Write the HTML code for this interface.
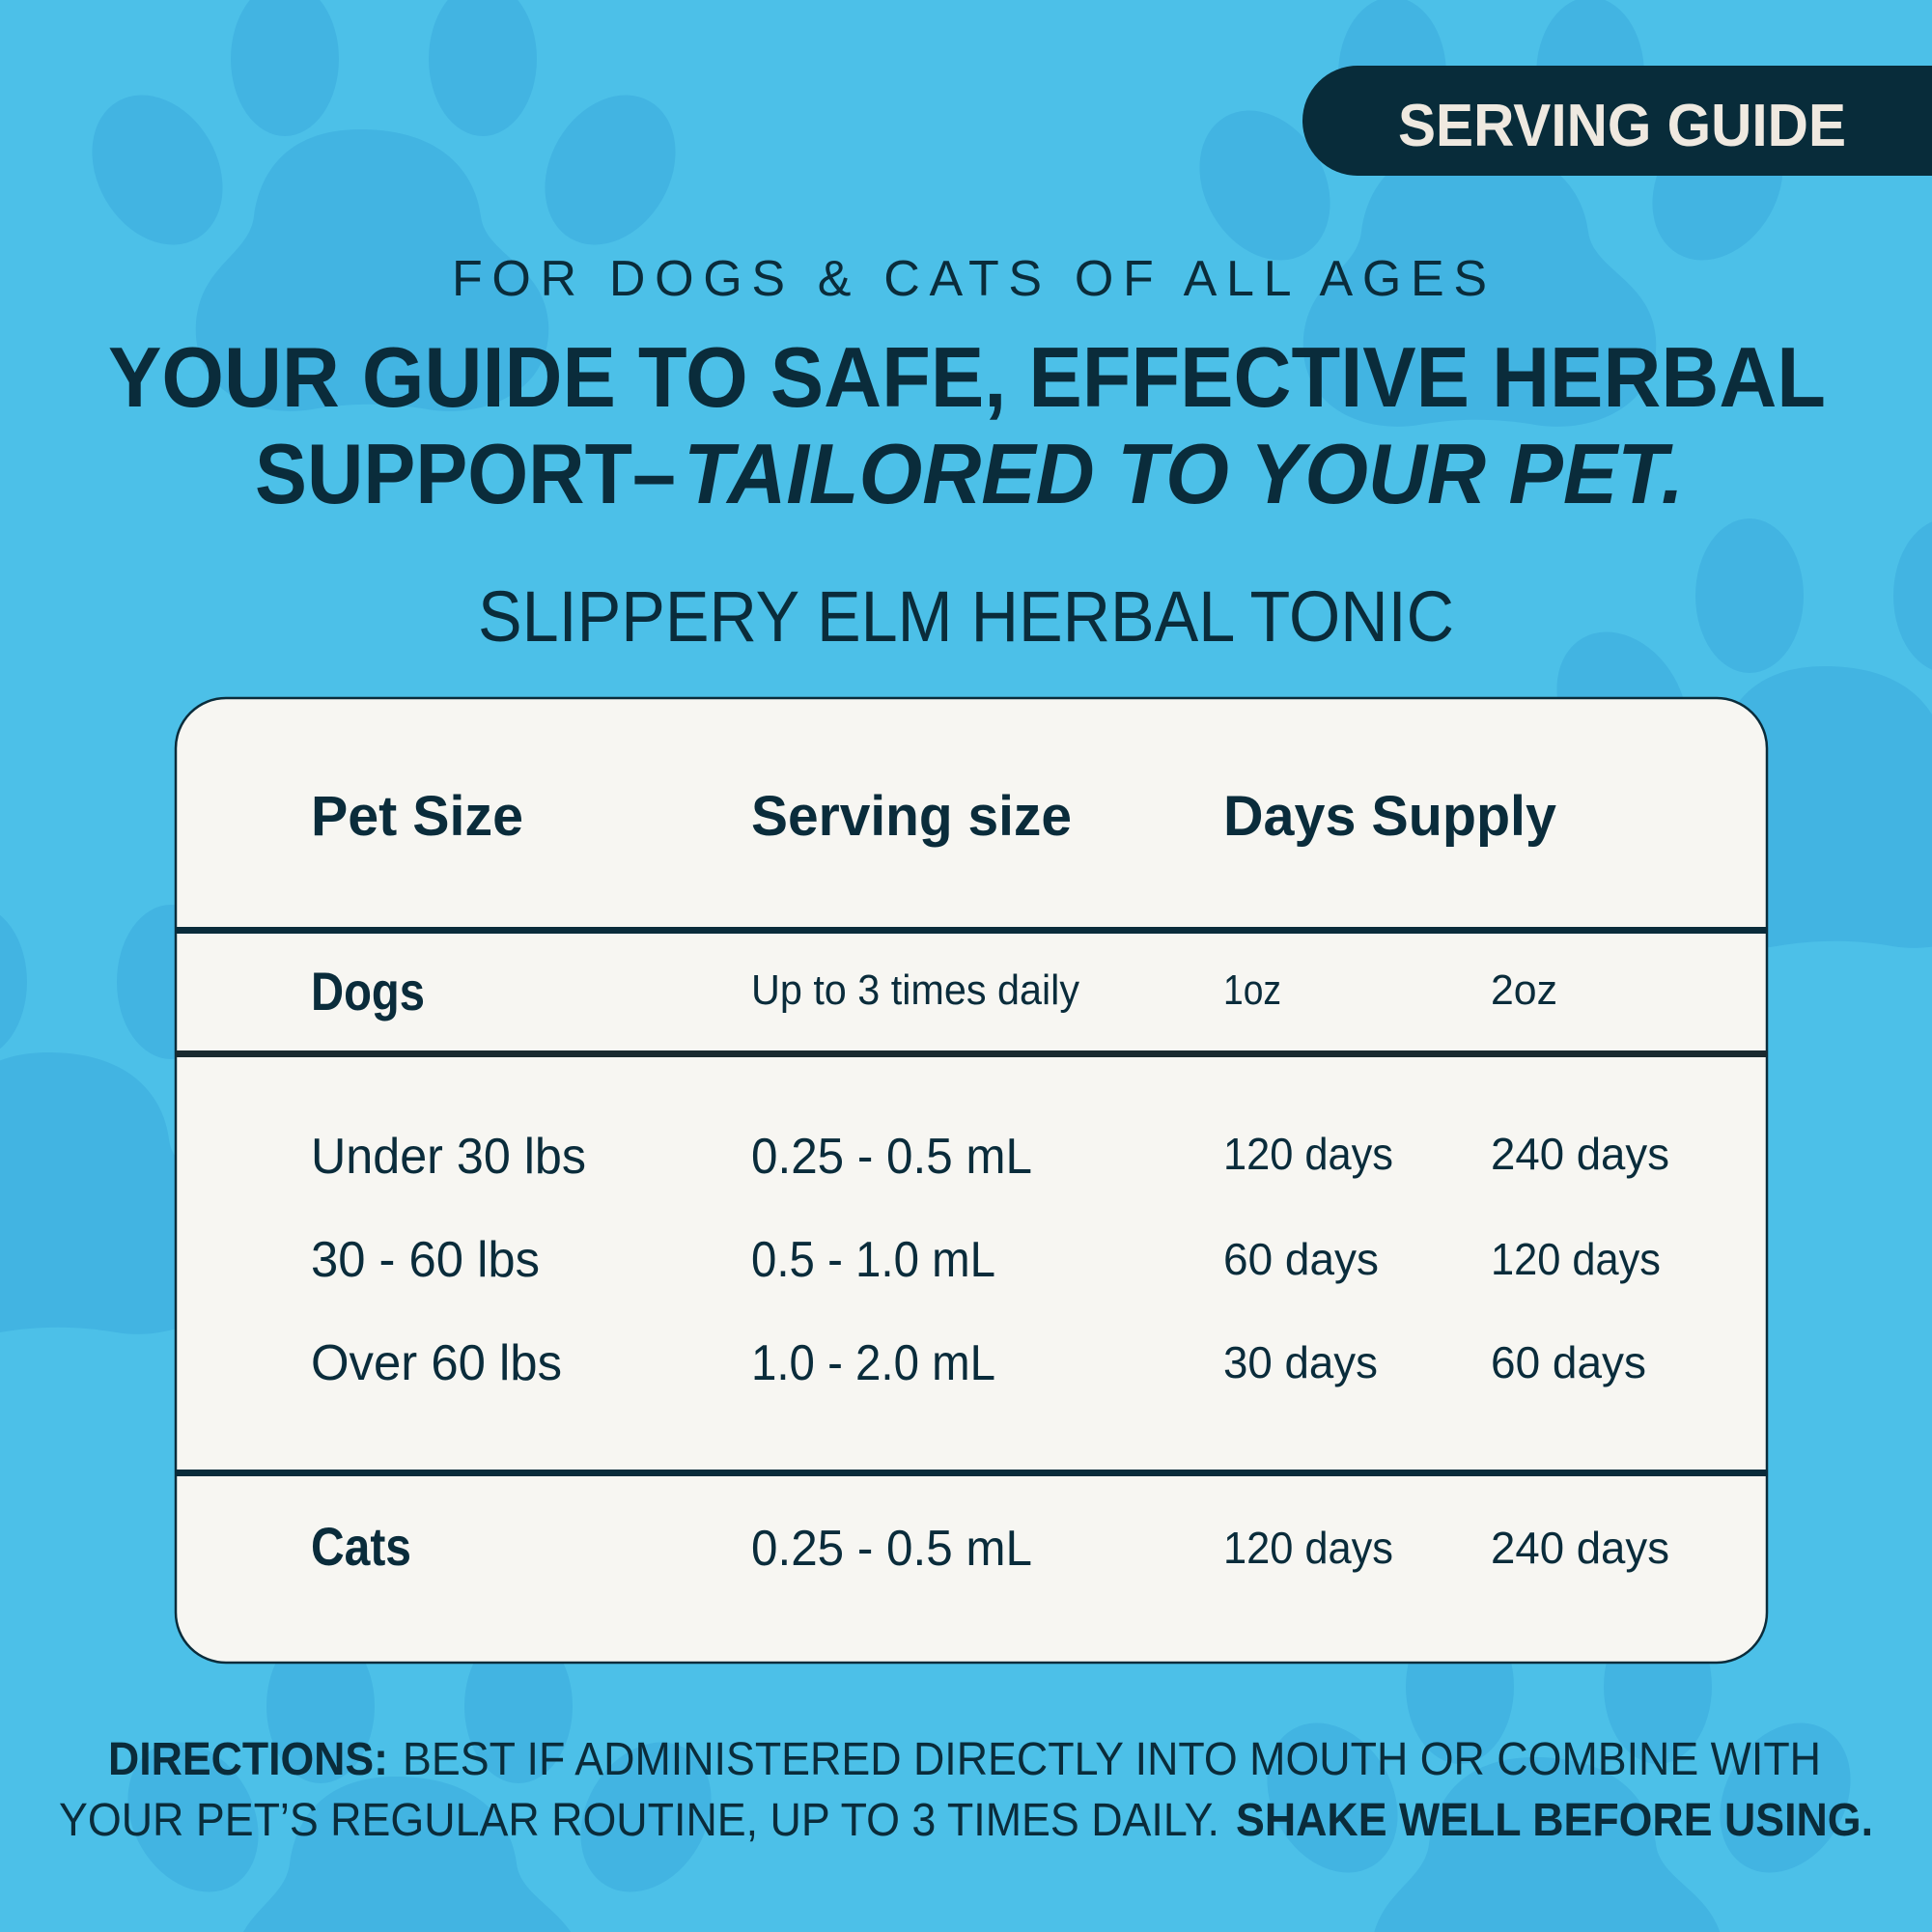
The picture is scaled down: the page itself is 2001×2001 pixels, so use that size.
<!DOCTYPE html>
<html><head><meta charset="utf-8"><style>
html,body{margin:0;padding:0;width:2001px;height:2001px;overflow:hidden;}
body{background:#4cc0e8;position:relative;}
svg{display:block;position:absolute;left:0;top:0;}
text{font-family:"Liberation Sans",sans-serif;}
</style></head><body>
<svg width="2001" height="2001" viewBox="0 0 2001 2001" xmlns="http://www.w3.org/2000/svg">
<defs>
<g id="paw" fill="#42b4e2">
<path d="M-10,-140 C80,-140 110,-90 115,-50 C120,-10 180,0 185,60 C190,130 120,160 60,150 C20,143 -20,143 -60,150 C-120,160 -185,130 -180,60 C-175,0 -125,-10 -120,-50 C-115,-90 -90,-140 -10,-140Z"/>
<ellipse cx="-220" cy="-98" rx="62" ry="82" transform="rotate(-30 -220 -98)"/>
<ellipse cx="-88" cy="-213" rx="56" ry="80"/>
<ellipse cx="117" cy="-213" rx="56" ry="80"/>
<ellipse cx="249" cy="-98" rx="62" ry="82" transform="rotate(30 249 -98)"/>
</g>
</defs>
<rect width="2001" height="2001" fill="#4cc0e8"/>
<use href="#paw" x="383" y="274"/>
<use href="#paw" x="1530" y="290"/>
<use href="#paw" x="60" y="1230"/>
<use href="#paw" x="1900" y="830"/>
<use href="#paw" x="420" y="1980"/>
<use href="#paw" x="1600" y="1960"/>
<use href="#paw" x="960" y="1180"/>

<path d="M1406,68 H2001 V182 H1406 A57,57 0 0 1 1406,68Z" fill="#082c3a"/>
<text x="1448" y="151" font-size="62" font-weight="bold" fill="#efe9e0" textLength="464" lengthAdjust="spacingAndGlyphs">SERVING GUIDE</text>

<g fill="#0a2c3b">
<text x="468" y="306" font-size="52" textLength="1072" lengthAdjust="spacing">FOR DOGS &amp; CATS OF ALL AGES</text>
<text x="112" y="421" font-size="88" font-weight="bold" textLength="1779" lengthAdjust="spacingAndGlyphs">YOUR GUIDE TO SAFE, EFFECTIVE HERBAL</text>
<text x="264" y="521" font-size="88" font-weight="bold" textLength="436" lengthAdjust="spacingAndGlyphs">SUPPORT–</text>
<text x="708" y="521" font-size="88" font-weight="bold" font-style="italic" textLength="1036" lengthAdjust="spacingAndGlyphs">TAILORED TO YOUR PET.</text>
<text x="495" y="664" font-size="74" textLength="1011" lengthAdjust="spacingAndGlyphs">SLIPPERY ELM HERBAL TONIC</text>
</g>

<rect x="182" y="723" width="1648" height="999" rx="52" fill="#f7f6f2" stroke="#0a2c3b" stroke-width="2.5"/>
<rect x="182" y="960" width="1648" height="7" fill="#0a2c3b"/>
<rect x="182" y="1088" width="1648" height="7" fill="#1a2a30"/>
<rect x="182" y="1522" width="1648" height="7" fill="#0a2c3b"/>

<g fill="#0a2c3b">
<g font-weight="bold" font-size="58">
<text x="322" y="865" textLength="220" lengthAdjust="spacingAndGlyphs">Pet Size</text>
<text x="778" y="865" textLength="332" lengthAdjust="spacingAndGlyphs">Serving size</text>
<text x="1267" y="865" textLength="345" lengthAdjust="spacingAndGlyphs">Days Supply</text>
</g>
<text x="322" y="1046" font-size="56" font-weight="bold" textLength="118" lengthAdjust="spacingAndGlyphs">Dogs</text>
<g font-size="44">
<text x="778" y="1040" textLength="340" lengthAdjust="spacingAndGlyphs">Up to 3 times daily</text>
<text x="1267" y="1040" textLength="60" lengthAdjust="spacingAndGlyphs">1oz</text>
<text x="1544" y="1040" textLength="69" lengthAdjust="spacingAndGlyphs">2oz</text>
</g>
<g font-size="52">
<text x="322" y="1215" textLength="285" lengthAdjust="spacingAndGlyphs">Under 30 lbs</text>
<text x="778" y="1215" textLength="291" lengthAdjust="spacingAndGlyphs">0.25 - 0.5 mL</text>
<text x="322" y="1322" textLength="237" lengthAdjust="spacingAndGlyphs">30 - 60 lbs</text>
<text x="778" y="1322" textLength="253" lengthAdjust="spacingAndGlyphs">0.5 - 1.0 mL</text>
<text x="322" y="1429" textLength="260" lengthAdjust="spacingAndGlyphs">Over 60 lbs</text>
<text x="778" y="1429" textLength="253" lengthAdjust="spacingAndGlyphs">1.0 - 2.0 mL</text>
<text x="778" y="1621" textLength="291" lengthAdjust="spacingAndGlyphs">0.25 - 0.5 mL</text>
</g>
<g font-size="46">
<text x="1267" y="1211" textLength="176" lengthAdjust="spacingAndGlyphs">120 days</text>
<text x="1544" y="1211" textLength="185" lengthAdjust="spacingAndGlyphs">240 days</text>
<text x="1267" y="1320" textLength="161" lengthAdjust="spacingAndGlyphs">60 days</text>
<text x="1544" y="1320" textLength="176" lengthAdjust="spacingAndGlyphs">120 days</text>
<text x="1267" y="1427" textLength="160" lengthAdjust="spacingAndGlyphs">30 days</text>
<text x="1544" y="1427" textLength="161" lengthAdjust="spacingAndGlyphs">60 days</text>
<text x="1267" y="1619" textLength="176" lengthAdjust="spacingAndGlyphs">120 days</text>
<text x="1544" y="1619" textLength="185" lengthAdjust="spacingAndGlyphs">240 days</text>
</g>
<text x="322" y="1621" font-size="56" font-weight="bold" textLength="104" lengthAdjust="spacingAndGlyphs">Cats</text>
</g>

<g fill="#0a2c3b" font-size="48">
<text x="112" y="1838" font-weight="bold" textLength="290" lengthAdjust="spacingAndGlyphs">DIRECTIONS:</text>
<text x="417" y="1838" textLength="1469" lengthAdjust="spacingAndGlyphs">BEST IF ADMINISTERED DIRECTLY INTO MOUTH OR COMBINE WITH</text>
<text x="61" y="1901" textLength="1202" lengthAdjust="spacingAndGlyphs">YOUR PET’S REGULAR ROUTINE, UP TO 3 TIMES DAILY.</text>
<text x="1280" y="1901" font-weight="bold" textLength="660" lengthAdjust="spacingAndGlyphs">SHAKE WELL BEFORE USING.</text>
</g>
</svg>
</body></html>
